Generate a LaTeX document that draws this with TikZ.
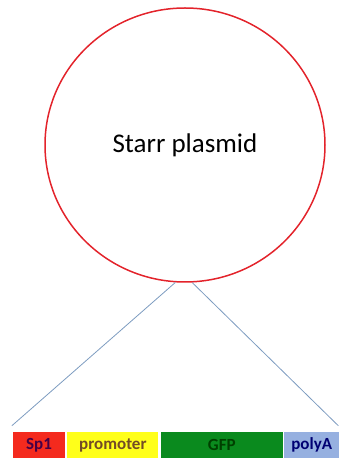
\documentclass[tikz,border=0pt]{standalone}
\usepackage{fontspec}
\setmainfont{Carlito}
\usetikzlibrary{positioning, shapes.geometric, calc}
\definecolor{pmred}{HTML}{E3232B}
\definecolor{pmline}{HTML}{7D9CC0}
\definecolor{segred}{HTML}{F42A1E}
\definecolor{segyellow}{HTML}{FFFF1A}
\definecolor{seggreen}{HTML}{0A8A1E}
\definecolor{segblue}{HTML}{96B0E0}

\begin{document}
\begin{tikzpicture}[
    x=1pt, y=1pt,
    node distance=2pt,
    segment/.style={rectangle, fill=#1, inner sep=0pt, minimum height=26pt,
                    font=\fontsize{17}{19}\selectfont\bfseries},
    zoomline/.style={pmline, line width=0.8pt}
  ]
    \useasboundingbox (0,0) rectangle (340,461);
    \node[ellipse, draw=pmred, line width=1.5pt, minimum width=280pt,
          minimum height=274pt, inner sep=0pt,
          font=\fontsize{27}{31}\selectfont] (plasmid) at (185,316) {Starr plasmid};
    \node[segment=segred, minimum width=52pt, text=red!50!blue!55!black] (sp1) at (39,16) {Sp1};
    \node[segment=segyellow, minimum width=91pt, text=brown!60!black, right=of sp1] (promoter) {promoter};
    \node[segment=seggreen, minimum width=122pt, text=green!25!black, right=of promoter] (gfp) {GFP};
    \node[segment=segblue, minimum width=55pt, text=blue!45!black, right=1pt of gfp] (polya) {polyA};
    \coordinate (leftend) at ($(sp1.north west)+(-1,6)$);
    \coordinate (rightend) at ($(polya.north east)+(-1,6)$);
    \draw[zoomline] (plasmid.266) -- (leftend);
    \draw[zoomline] (plasmid.273) -- (rightend);
  \end{tikzpicture}
\end{document}
